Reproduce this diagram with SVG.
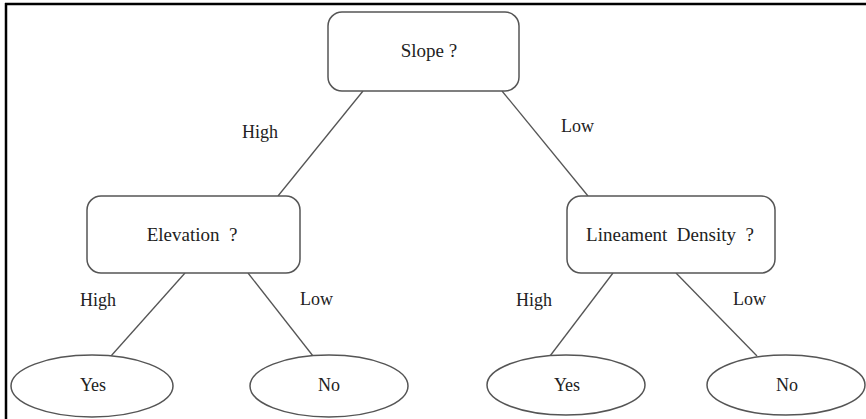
<svg xmlns="http://www.w3.org/2000/svg" width="866" height="419" viewBox="0 0 866 419">
<style>
.frame{stroke:#000;stroke-width:2.5;fill:none}
.box{fill:#fff;stroke:#555;stroke-width:1.5}
.leaf{fill:#fff;stroke:#555;stroke-width:1.5}
.edge{stroke:#555;stroke-width:1.3;fill:none}
text{font-family:"Liberation Serif","DejaVu Serif","Times New Roman",serif;fill:#222}
.t{text-anchor:middle;white-space:pre}
.n{font-size:19px}
.l{font-size:18px}
.lab{font-size:18px}
</style>
<rect width="866" height="419" fill="#fff"/>
<g id="frame">
<line class="frame" x1="5" y1="4" x2="866" y2="4"/>
<line class="frame" x1="6" y1="3" x2="6" y2="419"/>
</g>
<g id="connectors" font-family="Liberation Serif, DejaVu Serif, serif">
<line class="edge" x1="363" y1="91" x2="278" y2="196"/>
<line class="edge" x1="502" y1="91" x2="588" y2="196"/>
<line class="edge" x1="185" y1="273" x2="111" y2="356"/>
<line class="edge" x1="248" y1="273" x2="313" y2="356"/>
<line class="edge" x1="613" y1="273" x2="550" y2="356"/>
<line class="edge" x1="676" y1="273" x2="757" y2="356"/>
<text class="lab" x="242" y="138">High</text>
<text class="lab" x="561" y="132">Low</text>
<text class="lab" x="80" y="306">High</text>
<text class="lab" x="300" y="305">Low</text>
<text class="lab" x="516" y="306">High</text>
<text class="lab" x="733" y="305">Low</text>
</g>
<g id="slope" font-family="Liberation Serif, DejaVu Serif, serif">
<rect class="box" x="328" y="12" width="191" height="79" rx="14"/>
<text class="t n" x="429" y="57" xml:space="preserve">Slope ?</text>
</g>
<g id="elevation" font-family="Liberation Serif, DejaVu Serif, serif">
<rect class="box" x="87" y="196" width="213" height="77" rx="14"/>
<text class="t n" x="192" y="241" xml:space="preserve">Elevation  ?</text>
</g>
<g id="lineament" font-family="Liberation Serif, DejaVu Serif, serif">
<rect class="box" x="567" y="196" width="208" height="77" rx="14"/>
<text class="t n" x="670" y="241" xml:space="preserve">Lineament  Density  ?</text>
</g>
<g id="yes1" font-family="Liberation Serif, DejaVu Serif, serif">
<ellipse class="leaf" cx="92" cy="386" rx="81" ry="31"/>
<text class="t l" x="93" y="391">Yes</text>
</g>
<g id="no1" font-family="Liberation Serif, DejaVu Serif, serif">
<ellipse class="leaf" cx="329" cy="386" rx="79" ry="31"/>
<text class="t l" x="329" y="391">No</text>
</g>
<g id="yes2" font-family="Liberation Serif, DejaVu Serif, serif">
<ellipse class="leaf" cx="566" cy="385" rx="79" ry="30"/>
<text class="t l" x="567" y="391">Yes</text>
</g>
<g id="no2" font-family="Liberation Serif, DejaVu Serif, serif">
<ellipse class="leaf" cx="786" cy="385" rx="79" ry="30"/>
<text class="t l" x="787" y="391">No</text>
</g>
</svg>
